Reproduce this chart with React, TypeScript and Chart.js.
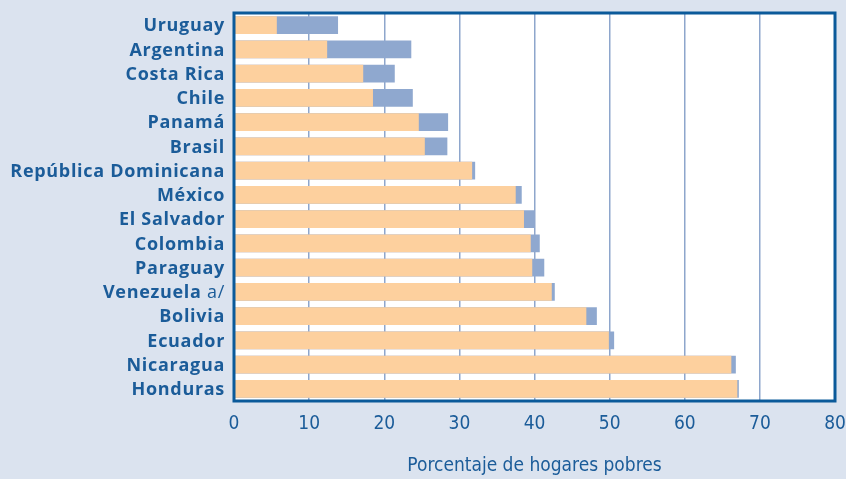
import React, { useEffect, useRef } from "react";
import { Chart, registerables } from "chart.js";

Chart.register(...registerables);

const countries = [
  "Uruguay",
  "Argentina",
  "Costa Rica",
  "Chile",
  "Panamá",
  "Brasil",
  "República Dominicana",
  "México",
  "El Salvador",
  "Colombia",
  "Paraguay",
  "Venezuela a/",
  "Bolivia",
  "Ecuador",
  "Nicaragua",
  "Honduras",
];

// orange (front) series
const seriesA = [5.7, 12.4, 17.2, 18.5, 24.6, 25.4, 31.7, 37.5, 38.6, 39.5, 39.7, 42.3, 46.9, 49.9, 66.2, 67.0];
// blue (back) series
const seriesB = [13.85, 23.6, 21.4, 23.8, 28.5, 28.4, 32.1, 38.3, 40.0, 40.7, 41.3, 42.7, 48.3, 50.6, 66.8, 67.2];

const xTicks = [0, 10, 20, 30, 40, 50, 60, 70, 80];
const xTitle = "Porcentaje de hogares pobres";

const BG = "#dbe3ef";
const FRAME = "#0b5a9a";
const TEXT = "#1b5c99";
const ORANGE = "#fdd09e";
const BLUE = "#8fa8cf";
const GRID = "#8ea6cc";

const LABEL_FONT = "'Open Sans', 'DejaVu Sans', sans-serif";
const NARROW_FONT = "'Liberation Sans Narrow', 'DejaVu Sans Condensed', 'Roboto', sans-serif";

const decorPlugin = {
  id: "decor",
  beforeDraw(chart: any) {
    const { ctx, chartArea } = chart;
    ctx.save();
    ctx.fillStyle = BG;
    ctx.fillRect(0, 0, chart.width, chart.height);
    ctx.fillStyle = "#ffffff";
    ctx.fillRect(chartArea.left, chartArea.top, chartArea.right - chartArea.left, chartArea.bottom - chartArea.top);
    ctx.restore();
  },
  afterDraw(chart: any) {
    const { ctx, chartArea } = chart;
    const yScale = chart.scales.y;
    ctx.save();
    // frame
    ctx.strokeStyle = FRAME;
    ctx.lineWidth = 3;
    ctx.strokeRect(chartArea.left, chartArea.top, chartArea.right - chartArea.left, chartArea.bottom - chartArea.top);
    // category labels
    ctx.fillStyle = TEXT;
    ctx.textBaseline = "middle";
    (ctx as any).letterSpacing = "0.7px";
    const boldFont = `bold 18px ${LABEL_FONT}`;
    const regFont = `18px ${LABEL_FONT}`;
    const xRight = chartArea.left - 9;
    countries.forEach((label, i) => {
      const y = yScale.getPixelForValue(i) + 1;
      const m = label.match(/^(.*?)(\s+a\/)$/);
      ctx.textAlign = "right";
      if (m) {
        ctx.font = regFont;
        const tail = m[2];
        const tw = ctx.measureText(tail).width;
        ctx.fillText(tail, xRight, y);
        ctx.font = boldFont;
        ctx.fillText(m[1], xRight - tw, y);
      } else {
        ctx.font = boldFont;
        ctx.fillText(label, xRight, y);
      }
    });
    ctx.restore();
  },
};

export default function App() {
  const canvasRef = useRef<HTMLCanvasElement | null>(null);

  useEffect(() => {
    if (!canvasRef.current) return;
    const chart = new Chart(canvasRef.current, {
      type: "bar",
      data: {
        labels: countries,
        datasets: [
          {
            label: "A",
            data: seriesA,
            backgroundColor: ORANGE,
            borderWidth: 0,
            categoryPercentage: 1,
            barPercentage: 0.74,
          },
          {
            label: "B",
            data: seriesB,
            backgroundColor: BLUE,
            borderWidth: 0,
            categoryPercentage: 1,
            barPercentage: 0.74,
          },
        ],
      },
      options: {
        indexAxis: "y",
        animation: false,
        responsive: false,
        maintainAspectRatio: false,
        layout: { padding: { left: 0, top: 13, right: 11, bottom: 0 } },
        plugins: {
          legend: { display: false },
          tooltip: { enabled: false },
          title: { display: false },
        },
        scales: {
          y: {
            stacked: true,
            grid: { display: false, drawTicks: false },
            border: { display: false },
            ticks: { display: false },
            afterFit(scale: any) {
              scale.width = 234;
            },
          },
          x: {
            stacked: false,
            min: 0,
            max: 80,
            afterBuildTicks(scale: any) {
              scale.ticks = xTicks.map((v) => ({ value: v }));
            },
            grid: {
              color: (c: any) => (c.tick && (c.tick.value === 0 || c.tick.value === 80) ? "rgba(0,0,0,0)" : GRID),
              lineWidth: 1.5,
              drawTicks: false,
            },
            border: { display: false },
            ticks: {
              color: TEXT,
              padding: 12,
              maxRotation: 0,
              autoSkip: false,
              font: { family: NARROW_FONT, size: 19 },
            },
            title: {
              display: true,
              text: xTitle,
              color: TEXT,
              font: { family: NARROW_FONT, size: 19 },
              padding: { top: 0, bottom: 2 },
            },
            afterFit(scale: any) {
              scale.height = 78;
              scale.paddingLeft = 0;
              scale.paddingRight = 0;
            },
          },
        },
      },
      plugins: [decorPlugin],
    });
    return () => chart.destroy();
  }, []);

  return (
    <div style={{ position: "absolute", left: 0, top: 0, width: 846, height: 479 }}>
      <canvas ref={canvasRef} width={846} height={479} style={{ display: "block", width: 846, height: 479 }} />
    </div>
  );
}
